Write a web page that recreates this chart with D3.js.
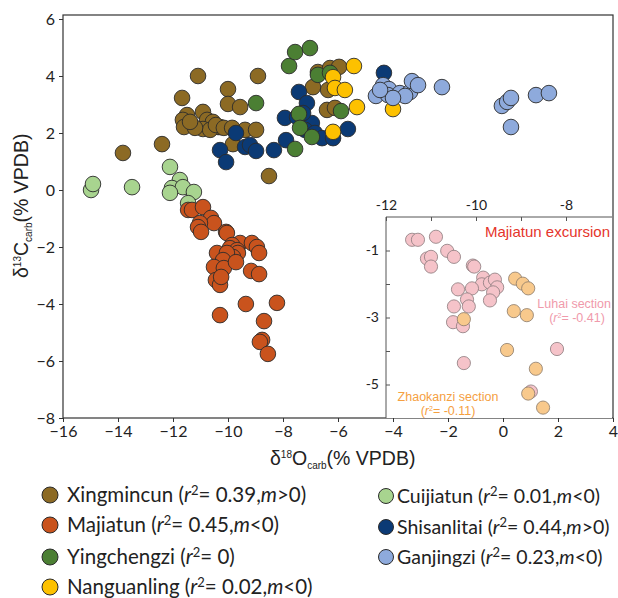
<!DOCTYPE html>
<html>
<head>
<meta charset="utf-8">
<script src="https://cdn.jsdelivr.net/npm/d3@7"></script>
<style>
  body { margin: 0; background: #fff; }
  #chart { width: 618px; height: 598px; }
  text { fill: #222; }
</style>
</head>
<body>
<div id="chart"></div>
<script>
// main plot data, [d18O, d13C]
const xingmincun = [[-11.09,4.0],[-11.67,3.23],[-11.49,2.63],[-11.64,2.46],[-11.6,2.21],[-10.91,2.74],[-10.76,2.46],
  [-10.55,2.39],[-10.36,2.21],[-10.29,2.21],[-10.91,2.14],[-10.65,2.11],[-10.44,2.28],[-10.15,2.18],[-10.0,3.54],
  [-10.0,3.02],[-9.56,2.91],[-12.4,1.61],[-13.82,1.3],[-9.38,2.11],[-8.98,2.11],[-9.82,1.61],[-8.91,4.0],[-8.51,0.49],
  [-6.73,4.14],[-6.29,4.28],[-5.96,4.32],[-6.91,3.61],[-6.36,3.51],[-6.4,2.81],[-6.11,2.88],[-9.85,2.18],[-11.2,2.18],[-11.38,2.39]];
const cuijiatun = [[-14.98,0.0],[-14.91,0.21],[-13.49,0.1],[-12.11,0.81],[-11.75,0.35],[-12.04,0.07],[-11.64,0.1],
  [-12.11,-0.1],[-11.24,-0.07],[-11.45,-0.46]];
const majiatun = [[-11.45,-0.7],[-11.31,-0.7],[-10.91,-0.6],[-10.62,-0.98],[-10.51,-1.16],[-11.02,-1.16],[-11.09,-1.3],
  [-10.98,-1.47],[-10.07,-1.47],[-10.04,-1.51],[-9.56,-1.86],[-9.13,-1.86],[-8.95,-2.0],[-8.87,-2.21],[-9.85,-1.93],
  [-9.93,-2.04],[-9.67,-2.11],[-9.64,-2.21],[-9.82,-2.35],[-10.4,-2.21],[-10.04,-2.21],[-10.18,-2.46],[-10.51,-2.7],
  [-10.15,-2.74],[-9.71,-2.53],[-9.16,-2.84],[-8.87,-2.95],[-10.44,-3.16],[-10.29,-3.33],[-10.25,-3.05],[-9.35,-4.0],
  [-8.22,-3.96],[-10.29,-4.39],[-8.69,-4.6],[-8.76,-5.26],[-8.84,-5.33],[-8.55,-5.75]];
const shisanlitai = [[-9.71,2.0],[-10.29,1.4],[-10.07,0.98],[-9.38,1.51],[-9.2,1.58],[-8.98,1.37],[-8.33,1.4],[-7.89,1.75],
  [-7.93,2.53],[-7.42,3.44],[-7.13,3.05],[-6.95,2.35],[-7.2,2.11],[-7.49,2.56],[-6.84,2.0],[-6.58,1.82],[-6.18,1.82],
  [-5.64,2.14],[-4.33,4.11],[-7.27,2.7]];
const yingchengzi = [[-8.98,3.05],[-7.78,4.35],[-7.56,4.84],[-7.02,4.98],[-7.42,2.67],[-7.38,2.18],[-6.95,1.86],
  [-7.56,1.44],[-6.73,4.04],[-5.89,2.77],[-6.29,4.11]];
const nanguanling = [[-5.42,4.35],[-6.18,3.96],[-6.11,3.58],[-5.75,3.51],[-5.31,2.91],[-6.18,2.04],[-4.0,2.84]];
const ganjingzi = [[-4.62,3.3],[-4.36,3.68],[-4.15,3.54],[-4.18,3.33],[-3.75,3.4],[-3.38,3.44],[-3.31,3.82],[-3.09,3.68],
  [-3.56,3.3],[-4.0,3.23],[-4.47,3.51],[-2.22,3.61],[-0.04,2.95],[0.15,3.09],[0.29,3.23],[0.29,2.21],[1.2,3.33],[1.67,3.4]];

// inset (Majiatun excursion)
const luhai = [[-11.42,-0.68],[-11.29,-0.68],[-10.89,-0.59],[-11.09,-1.24],[-11.0,-1.19],[-11.0,-1.48],[-10.64,-1.01],
  [-10.49,-1.19],[-10.07,-1.45],[-10.04,-1.48],[-9.84,-1.81],[-9.87,-2.01],[-9.69,-1.96],[-9.58,-1.87],[-9.53,-2.1],
  [-9.62,-2.25],[-9.69,-2.49],[-10.09,-2.13],[-10.4,-2.16],[-10.2,-2.46],[-10.16,-2.67],[-10.49,-2.67],[-10.51,-3.14],
  [-10.29,-3.26],[-10.27,-4.36],[-8.2,-3.94],[-8.78,-5.21]];
const zhaokanzi = [[-9.13,-1.84],[-8.96,-1.99],[-8.84,-2.13],[-9.16,-2.81],[-8.87,-2.93],[-9.31,-3.97],[-10.27,-3.05],
  [-8.67,-4.53],[-8.84,-5.27],[-8.51,-5.69]];

const xTicks = [-16, -14, -12, -10, -8, -6, -4, -2, 0, 2, 4];
const yTicks = [6, 4, 2, 0, -2, -4, -6, -8];
const insetXTicks = [-12, -10, -8];
const insetYTicks = [-1, -3, -5];

const legendCol1 = [
  {name: "Xingmincun", r2: "0.39", m: ">0", color: "#8c6a24"},
  {name: "Majiatun", r2: "0.45", m: "<0", color: "#c9531d"},
  {name: "Yingchengzi", r2: "0", m: null, color: "#4b7f33"},
  {name: "Nanguanling", r2: "0.02", m: "<0", color: "#fdc100"}
];
const legendCol2 = [
  {name: "Cuijiatun", r2: "0.01", m: "<0", color: "#a8d48f"},
  {name: "Shisanlitai", r2: "0.44", m: ">0", color: "#0b3a75"},
  {name: "Ganjingzi", r2: "0.23", m: "<0", color: "#8eaadc"}
];

const W = 618, H = 598;
const margin = {top: 15, right: 5, bottom: 180, left: 63};

const svg = d3.select("#chart").append("svg")
    .attr("width", W).attr("height", H);

const x = d3.scaleLinear().domain([-16, 4]).range([margin.left, 613]);
const y = d3.scaleLinear().domain([-8, 6]).range([418, 19]);

// frame
svg.append("rect")
    .attr("x", x(-16)).attr("y", margin.top)
    .attr("width", x(4) - x(-16)).attr("height", y(-8) - margin.top)
    .attr("fill", "none").attr("stroke", "#333").attr("stroke-width", 1.2);

const xAxis = svg.append("g")
    .attr("transform", `translate(0,${y(-8)})`)
    .call(d3.axisBottom(x).tickValues(xTicks).tickSize(4).tickPadding(4).tickFormat(d3.format("d")));
const yAxis = svg.append("g")
    .attr("transform", `translate(${x(-16)},0)`)
    .call(d3.axisLeft(y).tickValues(yTicks).tickSize(4).tickPadding(4).tickFormat(d3.format("d")));

[xAxis, yAxis].forEach(a => {
  a.select(".domain").remove();
  a.selectAll("line").attr("stroke", "#333");
  a.selectAll("text").style("font-family", "Lato, sans-serif").style("font-size", "16px").attr("fill", "#222");
});

// axis titles
const xt = svg.append("text")
    .attr("x", 270).attr("y", 465)
    .style("font-family", "Liberation Sans, Arial, sans-serif").style("font-size", "19.5px");
xt.append("tspan").text("δ");
xt.append("tspan").attr("dy", -7).style("font-size", "10px").text("18");
xt.append("tspan").attr("dy", 7).text("O");
xt.append("tspan").attr("dy", 4).style("font-size", "10px").text("carb");
xt.append("tspan").attr("dy", -4).text("(% VPDB)");

const yt = svg.append("text")
    .attr("transform", "translate(28,278) rotate(-90)")
    .style("font-family", "Liberation Sans, Arial, sans-serif").style("font-size", "19.5px");
yt.append("tspan").text("δ");
yt.append("tspan").attr("dy", -7).style("font-size", "10px").text("13");
yt.append("tspan").attr("dy", 7).text("C");
yt.append("tspan").attr("dy", 4).style("font-size", "10px").text("carb");
yt.append("tspan").attr("dy", -4).text("(% VPDB)");

// main points
const series = [
  [xingmincun, "#8c6a24"],
  [cuijiatun, "#a8d48f"],
  [majiatun, "#c9531d"],
  [shisanlitai, "#0b3a75"],
  [yingchengzi, "#4b7f33"],
  [nanguanling, "#fdc100"],
  [ganjingzi, "#8eaadc"]
];
series.forEach(([data, color]) => {
  svg.append("g").selectAll("circle")
    .data(data).join("circle")
      .attr("cx", d => x(d[0])).attr("cy", d => y(d[1]))
      .attr("r", 7.8)
      .attr("fill", color)
      .attr("stroke", "#2b2b2b").attr("stroke-width", 0.9);
});

// inset
const ix = d3.scaleLinear().domain([-12, -7]).range([386, 611]);
const iy = d3.scaleLinear().domain([0, -6]).range([217, 418]);

svg.append("rect")
    .attr("x", 386).attr("y", 217).attr("width", 226).attr("height", 201)
    .attr("fill", "#fff").attr("stroke", "none");
svg.append("path")
    .attr("d", `M386,418V217H612`)
    .attr("fill", "none").attr("stroke", "#555").attr("stroke-width", 1);

const ixAxis = svg.append("g")
    .attr("transform", "translate(0,217)")
    .call(d3.axisTop(ix).tickValues([-12, -11, -10, -9, -8]).tickSize(-4).tickPadding(7)
      .tickFormat(d => insetXTicks.includes(d) ? d : ""));
const iyAxis = svg.append("g")
    .attr("transform", "translate(386,0)")
    .call(d3.axisLeft(iy).tickValues([-1, -2, -3, -4, -5]).tickSize(-4).tickPadding(7)
      .tickFormat(d => insetYTicks.includes(d) ? d : ""));
[ixAxis, iyAxis].forEach(a => {
  a.select(".domain").remove();
  a.selectAll("line").attr("stroke", "#555");
  a.selectAll("text").style("font-family", "Lato, sans-serif").style("font-size", "14px").attr("fill", "#222");
});

svg.append("g").selectAll("circle")
  .data(luhai).join("circle")
    .attr("cx", d => ix(d[0])).attr("cy", d => iy(d[1]))
    .attr("r", 6.6).attr("fill", "#f5c3c9").attr("stroke", "#8a7a7c").attr("stroke-width", 0.8);
svg.append("g").selectAll("circle")
  .data(zhaokanzi).join("circle")
    .attr("cx", d => ix(d[0])).attr("cy", d => iy(d[1]))
    .attr("r", 6.6).attr("fill", "#f8c98c").attr("stroke", "#8a7a6a").attr("stroke-width", 0.8);

const insetFont = "Liberation Sans, Arial, sans-serif";
svg.append("text").attr("x", 610).attr("y", 237).attr("text-anchor", "end")
    .style("font-family", insetFont).style("font-size", "15px").style("fill", "#e5352b")
    .text("Majiatun excursion");
svg.append("text").attr("x", 611).attr("y", 308).attr("text-anchor", "end")
    .style("font-family", insetFont).style("font-size", "12.5px").style("fill", "#f09aab")
    .text("Luhai section");
const lr = svg.append("text").attr("x", 577).attr("y", 322).attr("text-anchor", "middle")
    .style("font-family", insetFont).style("font-size", "12.5px").style("fill", "#f09aab");
lr.append("tspan").text("(");
lr.append("tspan").style("font-style", "italic").text("r");
lr.append("tspan").attr("dy", -4).style("font-size", "7px").text("2");
lr.append("tspan").attr("dy", 4).text("= -0.41)");
svg.append("text").attr("x", 448).attr("y", 401).attr("text-anchor", "middle")
    .style("font-family", insetFont).style("font-size", "12.5px").style("fill", "#f5a03f")
    .text("Zhaokanzi section");
const zr = svg.append("text").attr("x", 448).attr("y", 415).attr("text-anchor", "middle")
    .style("font-family", insetFont).style("font-size", "12.5px").style("fill", "#f5a03f");
zr.append("tspan").text("(");
zr.append("tspan").style("font-style", "italic").text("r");
zr.append("tspan").attr("dy", -4).style("font-size", "7px").text("2");
zr.append("tspan").attr("dy", 4).text("= -0.11)");

// legend
function legendItem(g, d, cx, cy, r, tx, fs) {
  g.append("circle").attr("cx", cx).attr("cy", cy).attr("r", r)
    .attr("fill", d.color).attr("stroke", "#2b2b2b").attr("stroke-width", 1);
  const t = g.append("text").attr("x", tx).attr("y", cy + 7)
    .style("font-family", "Lato, sans-serif").style("font-size", fs + "px");
  t.append("tspan").text(d.name + " (");
  t.append("tspan").style("font-style", "italic").text("r");
  t.append("tspan").attr("dy", -7).style("font-size", "13px").text("2");
  t.append("tspan").attr("dy", 7).text("= " + d.r2 + (d.m ? "," : ")"));
  if (d.m) {
    t.append("tspan").style("font-style", "italic").text("m");
    t.append("tspan").text(d.m + ")");
  }
}
const leg = svg.append("g");
const rows1 = [495, 525, 557, 587];
const rows2 = [496, 527, 557];
legendCol1.forEach((d, i) => legendItem(leg, d, 50, rows1[i], 8, 67, 20.5));
legendCol2.forEach((d, i) => legendItem(leg, d, 386, rows2[i], 7.5, 397, 19.5));
</script>
</body>
</html>
